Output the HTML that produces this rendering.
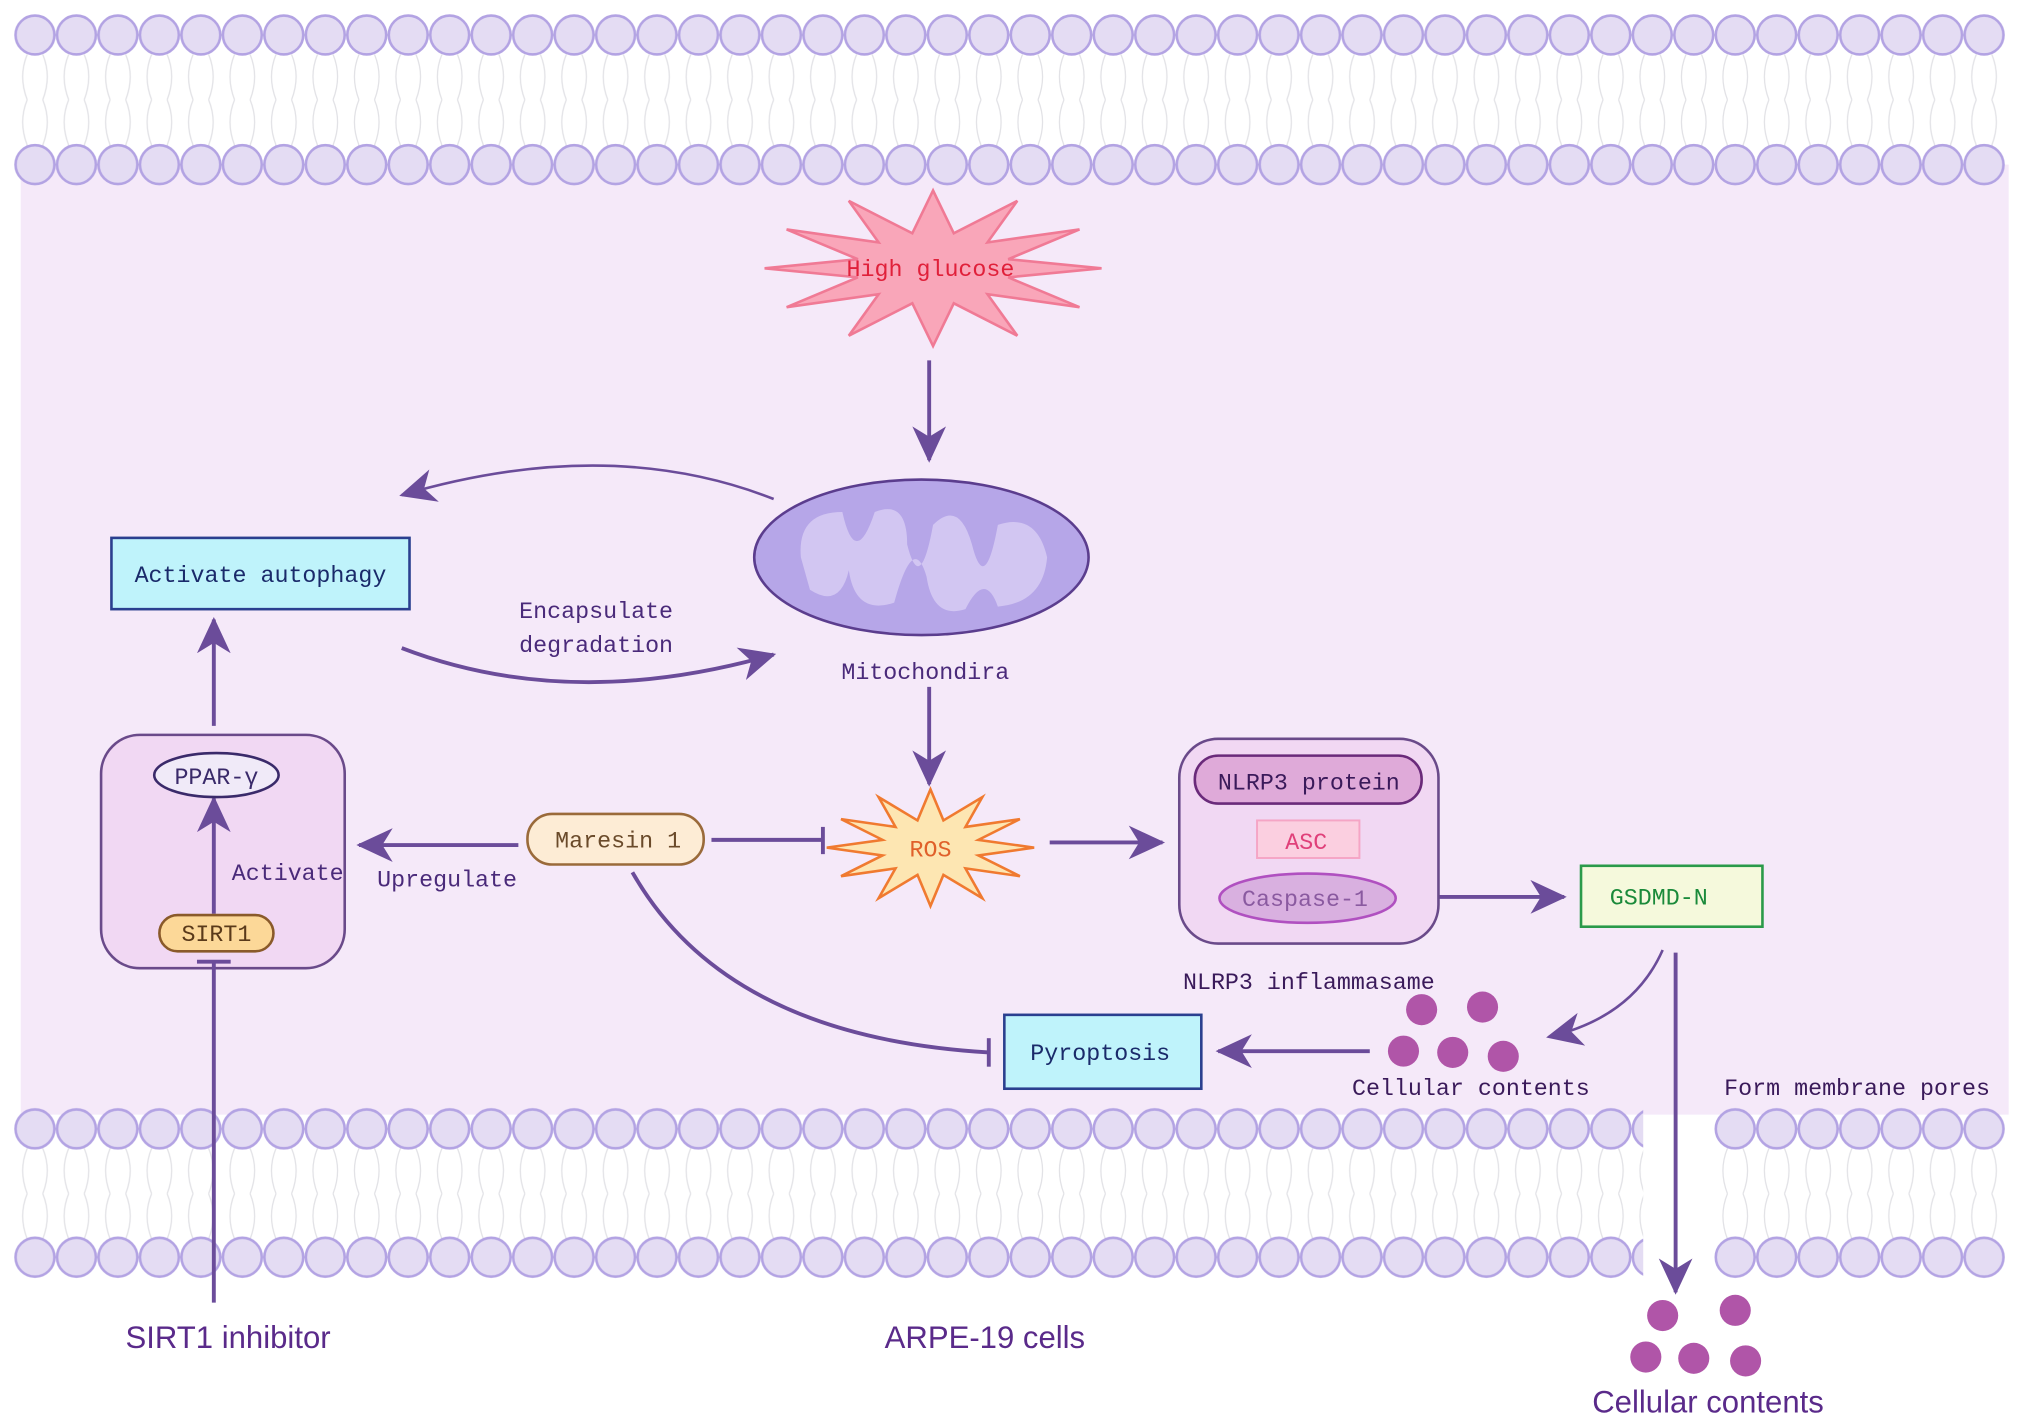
<!DOCTYPE html>
<html><head><meta charset="utf-8"><style>html,body{margin:0;padding:0;background:#fff}svg{display:block}</style></head>
<body>
<svg width="2032" height="1427" viewBox="0 0 1568 1101" preserveAspectRatio="none" xmlns="http://www.w3.org/2000/svg">
<defs>
<pattern id="heads" patternUnits="userSpaceOnUse" x="11" y="0" width="32" height="2000">
<circle cx="16" cy="27" r="15" fill="#e4dcf3" stroke="#b3a3e3" stroke-width="2"/>
<circle cx="16" cy="127" r="15" fill="#e4dcf3" stroke="#b3a3e3" stroke-width="2"/>
<circle cx="16" cy="871" r="15" fill="#e4dcf3" stroke="#b3a3e3" stroke-width="2"/>
<circle cx="16" cy="970" r="15" fill="#e4dcf3" stroke="#b3a3e3" stroke-width="2"/>
</pattern>
<pattern id="tails" patternUnits="userSpaceOnUse" x="11" y="42" width="32" height="70">
<path d="M10,0 Q3,17 10,35 M22,0 Q29,17 22,35 M10,35 Q3,52 10,70 M22,35 Q29,52 22,70" fill="none" stroke="#e2e2e6" stroke-width="1"/>
</pattern>
<pattern id="tails2" patternUnits="userSpaceOnUse" x="11" y="886" width="32" height="70">
<path d="M10,0 Q3,17 10,35 M22,0 Q29,17 22,35 M10,35 Q3,52 10,70 M22,35 Q29,52 22,70" fill="none" stroke="#e2e2e6" stroke-width="1"/>
</pattern>
<marker id="ah" markerUnits="userSpaceOnUse" markerWidth="34" markerHeight="30" refX="26" refY="13" orient="auto">
<path d="M0,0 L28,13 L0,26 L8,13 z" fill="#6b4c9a"/>
</marker>
</defs>
<rect x="16" y="127" width="1534" height="733" fill="#f5e9f9"/>
<rect x="11" y="42" width="1536" height="72" fill="url(#tails)"/>
<rect x="11" y="0" width="1536" height="145" fill="url(#heads)"/>
<rect x="11" y="886" width="1257" height="72" fill="url(#tails2)"/>
<rect x="1323" y="886" width="224" height="72" fill="url(#tails2)"/>
<rect x="11" y="850" width="1257" height="140" fill="url(#heads)"/>
<rect x="1323" y="850" width="224" height="140" fill="url(#heads)"/>

<g font-family="Liberation Mono, monospace" font-size="18" text-anchor="middle">
<rect x="78" y="567" width="188" height="180" rx="30" fill="#f1d8f3" stroke="#6a4a8a" stroke-width="2"/>
<!-- High glucose -->
<polygon points="850,207 778,214 833,237 762,227 785,259 736,234 720,267 704,234 655,259 678,227 607,237 662,214 590,207 662,200 607,177 678,187 655,155 704,180 720,147 736,180 785,155 762,187 833,177 778,200" fill="#f9a6b9" stroke="#f07a95" stroke-width="2"/>
<text x="718" y="213" fill="#e0203a">High glucose</text>
<g stroke="#6b4c9a" stroke-width="3" fill="none">
<line x1="717" y1="278" x2="717" y2="355" marker-end="url(#ah)"/>
<path d="M597,385 Q470,335 310,382" marker-end="url(#ah)" stroke-width="2"/>
<path d="M310,500 Q440,550 597,505" marker-end="url(#ah)"/>
<line x1="717" y1="530" x2="717" y2="605" marker-end="url(#ah)"/>
<line x1="810" y1="650" x2="897" y2="650" marker-end="url(#ah)"/>
<line x1="1088" y1="692" x2="1207" y2="692" marker-end="url(#ah)"/>
<path d="M1283,733 Q1260,785 1195,800" marker-end="url(#ah)" stroke-width="2"/>
<line x1="1293" y1="735" x2="1293" y2="997" marker-end="url(#ah)"/>
<line x1="1057" y1="811" x2="940" y2="811" marker-end="url(#ah)"/>
<line x1="400" y1="652" x2="277" y2="652" marker-end="url(#ah)"/>
<line x1="165" y1="705" x2="165" y2="616" marker-end="url(#ah)"/>
<line x1="165" y1="560" x2="165" y2="478" marker-end="url(#ah)"/>
<line x1="549" y1="648" x2="635" y2="648"/>
<line x1="635" y1="638" x2="635" y2="659"/>
<path d="M488,673 Q560,800 763,812"/>
<line x1="763" y1="801" x2="763" y2="823"/>
<line x1="165" y1="1005" x2="165" y2="742"/>
<line x1="152" y1="742" x2="178" y2="742"/>
</g>
<!-- mitochondria -->
<ellipse cx="711" cy="430" rx="129" ry="60" fill="#b6a6e8" stroke="#5b3d8e" stroke-width="2"/>
<path d="M618,430 Q615,395 650,395 Q660,440 675,395 Q700,385 700,420 Q710,460 720,405 Q740,385 750,420 Q760,460 770,405 Q800,395 808,430 Q805,465 770,468 Q760,440 745,470 Q720,478 715,445 Q705,410 690,465 Q660,475 655,440 Q648,470 625,455 Z" fill="#d2c6f2"/>
<text x="714" y="524" fill="#4a2a7a">Mitochondira</text>
<rect x="86" y="415" width="230" height="55" fill="#bff3fb" stroke="#2a3f8f" stroke-width="2"/>
<text x="201" y="449" fill="#1a2a6a">Activate autophagy</text>
<text x="460" y="477" fill="#4a2a7a">Encapsulate</text>
<text x="460" y="503" fill="#4a2a7a">degradation</text>
<!-- ROS -->
<polygon points="798,654 755,660 787,676 745,670 758,693 728,675 718,699 708,675 678,693 691,670 649,676 681,660 638,654 681,648 649,632 691,638 678,615 708,633 718,609 728,633 758,615 745,638 787,632 755,648" fill="#fde6b2" stroke="#f07a30" stroke-width="2"/>
<text x="718" y="661" fill="#e0602a">ROS</text>
<!-- NLRP3 -->
<rect x="910" y="570" width="200" height="158" rx="30" fill="#f1d8f3" stroke="#6a4a8a" stroke-width="2"/>
<rect x="922" y="583" width="175" height="37" rx="18" fill="#dfaad9" stroke="#6a2a7a" stroke-width="2"/>
<text x="1010" y="609" fill="#3a1a5a">NLRP3 protein</text>
<rect x="970" y="633" width="79" height="29" fill="#fbcfe0" stroke="#f5a5c5" stroke-width="1.5"/>
<text x="1008" y="655" fill="#e0407a">ASC</text>
<ellipse cx="1009" cy="693" rx="68" ry="19" fill="#d9b0e0" stroke="#b050c0" stroke-width="2"/>
<text x="1007" y="699" fill="#8a5aa0">Caspase-1</text>
<text x="1010" y="763" fill="#3a1a5a">NLRP3 inflammasame</text>
<rect x="1220" y="668" width="140" height="47" fill="#f5f9dc" stroke="#2a9a4a" stroke-width="2"/>
<text x="1280" y="698" fill="#1a8a3a">GSDMD-N</text>
<g fill="#b055a8">
<circle cx="1097" cy="779" r="12"/><circle cx="1144" cy="777" r="12"/><circle cx="1083" cy="811" r="12"/><circle cx="1121" cy="812" r="12"/><circle cx="1160" cy="815" r="12"/>
<circle cx="1283" cy="1015" r="12"/><circle cx="1339" cy="1011" r="12"/><circle cx="1270" cy="1047" r="12"/><circle cx="1307" cy="1048" r="12"/><circle cx="1347" cy="1050" r="12"/>
</g>
<text x="1135" y="845" fill="#3a1a5a">Cellular contents</text>
<text x="1433" y="845" fill="#3a1a5a">Form membrane pores</text>
<rect x="775" y="783" width="152" height="57" fill="#bff3fb" stroke="#2a3f8f" stroke-width="2"/>
<text x="849" y="818" fill="#1a2a6a">Pyroptosis</text>
<rect x="407" y="628" width="136" height="39" rx="19" fill="#fdecd5" stroke="#9a6a3a" stroke-width="2"/>
<text x="477" y="654" fill="#6a4a2a">Maresin 1</text>
<text x="345" y="684" fill="#4a2a7a">Upregulate</text>
<ellipse cx="167" cy="598" rx="48" ry="17" fill="#f0eaf8" stroke="#3a2a6a" stroke-width="2"/>
<text x="167" y="605" fill="#3a2a6a">PPAR-γ</text>
<rect x="123" y="706" width="88" height="28" rx="14" fill="#fcd898" stroke="#8a5a2a" stroke-width="2"/>
<text x="167" y="726" fill="#5a3a1a">SIRT1</text>
<text x="222" y="679" fill="#4a2a7a">Activate</text>
</g>
<g font-family="Liberation Sans, sans-serif" font-size="24" text-anchor="middle" fill="#5a2a8a">
<text x="176" y="1040">SIRT1 inhibitor</text>
<text x="760" y="1040">ARPE-19 cells</text>
<text x="1318" y="1090">Cellular contents</text>
</g>
</svg>
</body></html>
